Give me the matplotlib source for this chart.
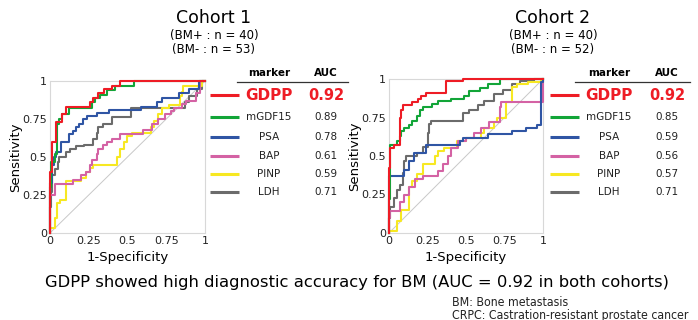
import matplotlib
matplotlib.use("Agg")
import matplotlib.pyplot as plt
from matplotlib.lines import Line2D

# ROC corner points (x = end of the horizontal run, y = its level), drawn with steps-pre
markers = ["GDPP", "mGDF15", "PSA", "BAP", "PINP", "LDH"]
colors = ["#ee1c25", "#12a538", "#2f55a4", "#d462a4", "#f7e822", "#6b6b6b"]

c1_auc = ["0.92", "0.89", "0.78", "0.61", "0.59", "0.71"]
c2_auc = ["0.92", "0.85", "0.59", "0.56", "0.57", "0.71"]

# cohort 1
c1_gdpp_x = [0, 0.015, 0.04, 0.075, 0.10, 0.26, 0.28, 0.31, 0.35, 0.40, 0.45, 1.0]
c1_gdpp_y = [0, 0.40, 0.60, 0.73, 0.78, 0.83, 0.86, 0.89, 0.92, 0.95, 0.97, 1.0]
c1_mgdf_x = [0, 0.006, 0.03, 0.045, 0.055, 0.08, 0.12, 0.17, 0.27, 0.29, 0.32, 0.37, 0.42, 0.54, 1.0]
c1_mgdf_y = [0, 0.30, 0.47, 0.52, 0.72, 0.75, 0.78, 0.82, 0.82, 0.86, 0.89, 0.91, 0.94, 0.97, 1.0]
c1_psa_x = [0, 0.01, 0.025, 0.04, 0.07, 0.12, 0.15, 0.17, 0.19, 0.21, 0.24, 0.30, 0.38, 0.59, 0.69, 0.72, 0.83, 0.90, 0.96, 1.0]
c1_psa_y = [0, 0.33, 0.45, 0.50, 0.53, 0.60, 0.65, 0.67, 0.70, 0.72, 0.75, 0.77, 0.79, 0.81, 0.83, 0.86, 0.89, 0.92, 0.95, 1.0]
c1_bap_x = [0, 0.03, 0.15, 0.20, 0.23, 0.26, 0.27, 0.30, 0.31, 0.34, 0.37, 0.40, 0.45, 0.60, 0.66, 0.70, 0.74, 0.78, 0.80, 0.85, 0.88, 0.94, 0.97, 1.0]
c1_bap_y = [0, 0.25, 0.32, 0.35, 0.38, 0.40, 0.45, 0.48, 0.52, 0.55, 0.58, 0.60, 0.62, 0.65, 0.68, 0.72, 0.75, 0.78, 0.80, 0.82, 0.85, 0.87, 0.92, 1.0]
c1_pinp_x = [0, 0.03, 0.045, 0.065, 0.10, 0.11, 0.20, 0.23, 0.26, 0.28, 0.43, 0.45, 0.48, 0.50, 0.53, 0.65, 0.67, 0.70, 0.72, 0.77, 0.84, 0.85, 0.86, 0.98, 1.0]
c1_pinp_y = [0, 0.03, 0.10, 0.20, 0.22, 0.34, 0.34, 0.36, 0.40, 0.43, 0.45, 0.50, 0.55, 0.60, 0.64, 0.66, 0.70, 0.74, 0.78, 0.82, 0.84, 0.90, 0.93, 0.97, 1.0]
c1_ldh_x = [0, 0.005, 0.015, 0.03, 0.05, 0.06, 0.10, 0.13, 0.17, 0.22, 0.28, 0.30, 0.31, 0.34, 0.40, 0.52, 0.87, 0.90, 0.95, 0.98, 1.0]
c1_ldh_y = [0, 0.17, 0.27, 0.38, 0.42, 0.47, 0.50, 0.53, 0.55, 0.57, 0.58, 0.62, 0.66, 0.70, 0.72, 0.76, 0.82, 0.86, 0.90, 0.95, 1.0]

# cohort 2
c2_gdpp_x = [0, 0.005, 0.03, 0.07, 0.08, 0.09, 0.15, 0.19, 0.21, 0.24, 0.37, 0.48, 1.0]
c2_gdpp_y = [0, 0.42, 0.55, 0.57, 0.75, 0.80, 0.83, 0.85, 0.87, 0.89, 0.91, 0.99, 1.0]
c2_mgdf_x = [0, 0.005, 0.05, 0.07, 0.08, 0.10, 0.13, 0.15, 0.18, 0.20, 0.22, 0.28, 0.32, 0.40, 0.49, 0.52, 0.59, 0.64, 0.72, 1.0]
c2_mgdf_y = [0, 0.22, 0.57, 0.60, 0.63, 0.66, 0.68, 0.70, 0.73, 0.76, 0.80, 0.82, 0.84, 0.86, 0.87, 0.89, 0.92, 0.94, 0.97, 1.0]
c2_psa_x = [0, 0.10, 0.13, 0.16, 0.24, 0.46, 0.48, 0.64, 0.80, 0.89, 0.96, 0.99, 1.0, 1.0]
c2_psa_y = [0, 0.37, 0.41, 0.47, 0.52, 0.57, 0.60, 0.62, 0.64, 0.66, 0.68, 0.70, 0.98, 1.0]
c2_bap_x = [0, 0.005, 0.07, 0.10, 0.13, 0.17, 0.22, 0.32, 0.35, 0.38, 0.40, 0.45, 0.50, 0.55, 0.60, 0.65, 0.72, 0.73, 1.0, 1.0]
c2_bap_y = [0, 0.10, 0.14, 0.20, 0.25, 0.30, 0.35, 0.37, 0.40, 0.45, 0.50, 0.55, 0.60, 0.62, 0.65, 0.68, 0.72, 0.82, 0.85, 1.0]
c2_pinp_x = [0, 0.05, 0.08, 0.13, 0.15, 0.18, 0.22, 0.30, 0.32, 0.36, 0.44, 0.50, 0.60, 0.62, 0.68, 0.70, 0.76, 0.80, 0.83, 0.90, 0.99, 1.0]
c2_pinp_y = [0, 0.01, 0.08, 0.15, 0.30, 0.34, 0.38, 0.45, 0.50, 0.53, 0.55, 0.60, 0.62, 0.65, 0.68, 0.72, 0.75, 0.85, 0.95, 0.97, 0.98, 1.0]
c2_ldh_x = [0, 0.005, 0.03, 0.05, 0.07, 0.09, 0.10, 0.11, 0.18, 0.22, 0.25, 0.26, 0.27, 0.48, 0.52, 0.58, 0.62, 0.68, 0.74, 0.80, 0.85, 0.94, 1.0]
c2_ldh_y = [0, 0.10, 0.17, 0.23, 0.28, 0.31, 0.39, 0.47, 0.50, 0.52, 0.56, 0.65, 0.71, 0.73, 0.78, 0.80, 0.83, 0.86, 0.90, 0.93, 0.97, 0.99, 1.0]

cohort1 = [(c1_gdpp_x, c1_gdpp_y), (c1_mgdf_x, c1_mgdf_y), (c1_psa_x, c1_psa_y),
           (c1_bap_x, c1_bap_y), (c1_pinp_x, c1_pinp_y), (c1_ldh_x, c1_ldh_y)]
cohort2 = [(c2_gdpp_x, c2_gdpp_y), (c2_mgdf_x, c2_mgdf_y), (c2_psa_x, c2_psa_y),
           (c2_bap_x, c2_bap_y), (c2_pinp_x, c2_pinp_y), (c2_ldh_x, c2_ldh_y)]

W, H = 698, 320
fig = plt.figure(figsize=(W / 100, H / 100), dpi=100)


def fx(px):
    return px / W


def fy(py):
    return 1 - py / H


def roc_panel(left, top, right, bottom, curves):
    ax = fig.add_axes([fx(left), fy(bottom), fx(right - left), (bottom - top) / H])
    ax.plot([0, 1], [0, 1], color="#c8c8c8", lw=0.7, zorder=1)
    # draw back to front so GDPP ends up on top
    for i in range(len(curves) - 1, -1, -1):
        x, y = curves[i]
        ax.plot(x, y, drawstyle="steps-pre", color=colors[i], lw=1.5, clip_on=False, zorder=2 + (6 - i))
    ax.set_xlim(0, 1)
    ax.set_ylim(0, 1)
    ticks = [0, 0.25, 0.5, 0.75, 1]
    labels = ["0", "0.25", "0.5", "0.75", "1"]
    ax.set_xticks(ticks)
    ax.set_xticklabels(labels)
    ax.set_yticks(ticks)
    ax.set_yticklabels(labels)
    ax.tick_params(length=0, labelsize=8, pad=2, colors="#222222")
    for s in ax.spines.values():
        s.set_color("#d8d8d8")
        s.set_linewidth(0.8)
    ax.set_xlabel("1-Specificity", fontsize=9.5, labelpad=4)
    ax.set_ylabel("Sensitivity", fontsize=9.5)
    ax.yaxis.set_label_coords(-28 / (right - left), 0.5)
    return ax


def legend_table(line_x0, line_x1, name_x, auc_x, rule_x0, rule_x1, aucs):
    fig.text(fx(name_x), fy(73), "marker", ha="center", va="center", fontsize=7.5, fontweight="bold")
    fig.text(fx(auc_x), fy(73), "AUC", ha="center", va="center", fontsize=7.5, fontweight="bold")
    fig.add_artist(Line2D([fx(rule_x0), fx(rule_x1)], [fy(82), fy(82)], color="#333333", lw=0.9))
    rows_y = [95, 117, 137, 156, 174, 192]
    for i in range(len(markers)):
        yy = fy(rows_y[i])
        fig.add_artist(Line2D([fx(line_x0), fx(line_x1)], [yy, yy], color=colors[i], lw=2.2,
                              solid_capstyle="butt"))
        if i == 0:
            fig.text(fx(name_x), yy, markers[i], ha="center", va="center", fontsize=11,
                     fontweight="bold", color=colors[0])
            fig.text(fx(auc_x), yy, aucs[i], ha="center", va="center", fontsize=10.5,
                     fontweight="bold", color=colors[0])
        else:
            fig.text(fx(name_x), yy, markers[i], ha="center", va="center", fontsize=7.5, color="#222222")
            fig.text(fx(auc_x), yy, aucs[i], ha="center", va="center", fontsize=7.5, color="#222222")


roc_panel(50, 81, 205, 233, cohort1)
roc_panel(389, 79, 543, 233, cohort2)

legend_table(210, 239, 269, 326, 237, 348, c1_auc)
legend_table(550, 579, 609, 667, 575, 690, c2_auc)

fig.text(fx(214), fy(18), "Cohort 1", ha="center", va="center", fontsize=12.5)
fig.text(fx(214), fy(35), "(BM+ : n = 40)", ha="center", va="center", fontsize=8.5)
fig.text(fx(214), fy(50), "(BM- : n = 53)", ha="center", va="center", fontsize=8.5)
fig.text(fx(553), fy(18), "Cohort 2", ha="center", va="center", fontsize=12.5)
fig.text(fx(553), fy(35), "(BM+ : n = 40)", ha="center", va="center", fontsize=8.5)
fig.text(fx(553), fy(50), "(BM- : n = 52)", ha="center", va="center", fontsize=8.5)

fig.text(fx(357), fy(283), "GDPP showed high diagnostic accuracy for BM (AUC = 0.92 in both cohorts)",
         ha="center", va="center", fontsize=11.8)
fig.text(fx(452), fy(302), "BM: Bone metastasis", ha="left", va="center", fontsize=8.8,
         fontstretch="condensed", color="#222222")
fig.text(fx(452), fy(315), "CRPC: Castration-resistant prostate cancer", ha="left", va="center",
         fontsize=8.8, fontstretch="condensed", color="#222222")

fig.savefig("out.png", dpi=100, facecolor="white")
